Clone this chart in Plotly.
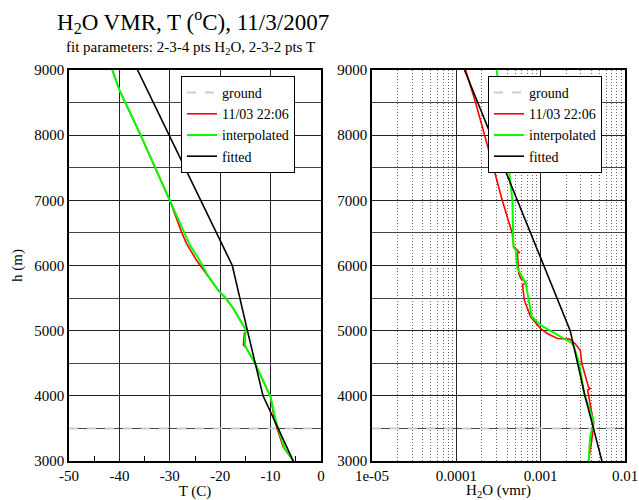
import plotly.graph_objects as go

# ---- Temperature panel data ----
t_h_meas = [3000, 3215, 3500, 3625, 3983, 4270, 4500, 4730, 4780, 4960, 5000, 5340, 5500, 5620, 5880, 6080, 6340, 6520, 7000, 7986, 8693, 9000]
t_meas   = [-5.5, -7.5, -8.7, -9.2, -10.0, -11.8, -13.1, -14.8, -15.4, -15.2, -14.8, -17.4, -18.9, -20.4, -22.9, -24.7, -26.7, -27.7, -30.0, -35.7, -40.0, -41.4]
t_h_int  = [3000, 3215, 3500, 3625, 3983, 4270, 4500, 4730, 4780, 4960, 5000, 5340, 5500, 5620, 5880, 6080, 6310, 7000, 7986, 8693, 9000]
t_int    = [-5.5, -7.3, -8.5, -9.0, -10.0, -11.8, -13.1, -14.8, -15.1, -15.0, -14.8, -17.4, -18.9, -20.4, -22.7, -24.1, -26.0, -30.0, -35.7, -40.0, -41.4]
t_h_fit  = [3000, 4000, 5000, 6000, 9000]
t_fit    = [-5.5, -11.5, -14.6, -17.6, -36.4]

# ---- H2O panel data (vmr) ----
w_h_meas = [3000, 3215, 3300, 3580, 4086, 4110, 4130, 4496, 4700, 4800, 4870, 4880, 4957, 5030, 5212, 5468, 5622, 5700, 5750, 5800, 5880, 6186, 6200, 6290, 6495, 7000, 7666, 8500, 9000]
w_meas   = [0.00370, 0.00395, 0.00402, 0.00425, 0.00360, 0.00385, 0.00370, 0.00308, 0.00295, 0.00257, 0.00219, 0.00158, 0.00120, 0.00100, 0.00076, 0.00064, 0.00062, 0.00061, 0.00067, 0.00058, 0.00055, 0.00053, 0.00056, 0.00048, 0.00046, 0.00035, 0.000255, 0.000169, 0.000129]
w_h_int  = [3000, 3370, 3600, 4035, 4500, 4750, 4812, 4966, 5085, 5222, 5725, 5955, 6237, 6285, 7000, 7614, 9000]
w_int    = [0.00370, 0.00386, 0.00425, 0.00328, 0.00286, 0.00249, 0.00232, 0.00145, 0.00100, 0.00078, 0.000665, 0.00053, 0.000506, 0.000475, 0.000462, 0.000409, 0.000301]
w_h_fit  = [3000, 4000, 5000, 9000]
w_fit    = [0.00533, 0.00335, 0.00224, 0.000125]

ground_h = 3500
t_range = [-50, 0]
w_range = [1e-5, 1e-2]

FONT = "Liberation Serif"
RED, GREEN, GRAY = "#ff0000", "#00ff00", "#cccccc"

fig = go.Figure()

def add_panel(xref, yref, legend, gx, th, tv, ih, iv, fh, fv):
    fig.add_trace(go.Scatter(x=gx, y=[ground_h, ground_h], mode="lines", name="ground",
                             line=dict(color=GRAY, width=2, dash="dash"),
                             xaxis=xref, yaxis=yref, legend=legend))
    fig.add_trace(go.Scatter(x=tv, y=th, mode="lines", name="11/03 22:06",
                             line=dict(color=RED, width=1.6),
                             xaxis=xref, yaxis=yref, legend=legend))
    fig.add_trace(go.Scatter(x=iv, y=ih, mode="lines", name="interpolated",
                             line=dict(color=GREEN, width=2),
                             xaxis=xref, yaxis=yref, legend=legend))
    fig.add_trace(go.Scatter(x=fv, y=fh, mode="lines", name="fitted",
                             line=dict(color="black", width=1.6),
                             xaxis=xref, yaxis=yref, legend=legend))

add_panel("x", "y", "legend", t_range, t_h_meas, t_meas, t_h_int, t_int, t_h_fit, t_fit)
add_panel("x2", "y2", "legend2", w_range, w_h_meas, w_meas, w_h_int, w_int, w_h_fit, w_fit)

W, H = 639, 500
def px(x): return x / W
def py(y): return 1 - y / H

tickfont = dict(family=FONT, size=15, color="black")
yaxis_common = dict(range=[3000, 9000], tickmode="array", tickvals=[3000, 4000, 5000, 6000, 7000, 8000, 9000],
                    showgrid=True, gridcolor="#222222", gridwidth=1,
                    minor=dict(tickmode="array", tickvals=[3500, 4500, 5500, 6500, 7500, 8500],
                               showgrid=True, gridcolor="#444444", gridwidth=1, ticks=""),
                    showline=True, linecolor="black", linewidth=1.5, mirror=True,
                    ticks="", tickfont=tickfont, zeroline=False, automargin=False,
                    domain=[py(461), py(70)])

minor_w = [k * 10**e for e in (-5, -4, -3) for k in range(2, 10)]

legend_common = dict(xanchor="left", yanchor="top", bgcolor="white", bordercolor="black",
                     borderwidth=1, font=dict(family=FONT, size=14), tracegroupgap=0, itemwidth=30)

fig.update_layout(
    width=W, height=H, margin=dict(l=0, r=0, t=0, b=0),
    paper_bgcolor="white", plot_bgcolor="white",
    font=dict(family=FONT, color="black"),
    xaxis=dict(range=t_range, domain=[px(69), px(321)], tickmode="array",
               tickvals=[-50, -40, -30, -20, -10, 0], ticktext=["-50", "-40", "-30", "-20", "-10", "0"],
               showgrid=True, gridcolor="#222222", gridwidth=1,
               minor=dict(tickmode="array", tickvals=[-45, -35, -25, -15, -5], ticks="inside",
                          ticklen=5, tickcolor="black", showgrid=False),
               showline=True, linecolor="black", linewidth=1.5, mirror=True,
               ticks="", tickfont=tickfont, zeroline=False, anchor="y", automargin=False,
               title=dict(text="T (C)", font=dict(family=FONT, size=15), standoff=1)),
    yaxis=dict(anchor="x", title=dict(text="h (m)", font=dict(family=FONT, size=15), standoff=8),
               **yaxis_common),
    xaxis2=dict(type="log", range=[-5, -2], domain=[px(372), px(625)], tickmode="array",
                tickvals=[1e-5, 1e-4, 1e-3, 1e-2], ticktext=["1e-05", "0.0001", "0.001", "0.01"],
                showgrid=True, gridcolor="#222222", gridwidth=1,
                minor=dict(tickmode="array", tickvals=minor_w, showgrid=True,
                           gridcolor="#666666", gridwidth=1, griddash="1px,2px", ticks=""),
                showline=True, linecolor="black", linewidth=1.5, mirror=True,
                ticks="", tickfont=tickfont, zeroline=False, anchor="y2", automargin=False,
                title=dict(text="H<sub>2</sub>O (vmr)", font=dict(family=FONT, size=15), standoff=3)),
    yaxis2=dict(anchor="x2", **yaxis_common),
    legend=dict(x=px(181), y=py(76), **legend_common),
    legend2=dict(x=px(488), y=py(76), **legend_common),
    annotations=[
        dict(text="H<sub>2</sub>O VMR, T (<sup>o</sup>C), 11/3/2007", x=px(55), y=py(21),
             xref="paper", yref="paper", xanchor="left", yanchor="middle", showarrow=False,
             font=dict(family=FONT, size=23)),
        dict(text="fit parameters: 2-3-4 pts H<sub>2</sub>O, 2-3-2 pts T", x=px(64), y=py(48),
             xref="paper", yref="paper", xanchor="left", yanchor="middle", showarrow=False,
             font=dict(family=FONT, size=15)),
    ],
)

fig.write_html("out.html")
